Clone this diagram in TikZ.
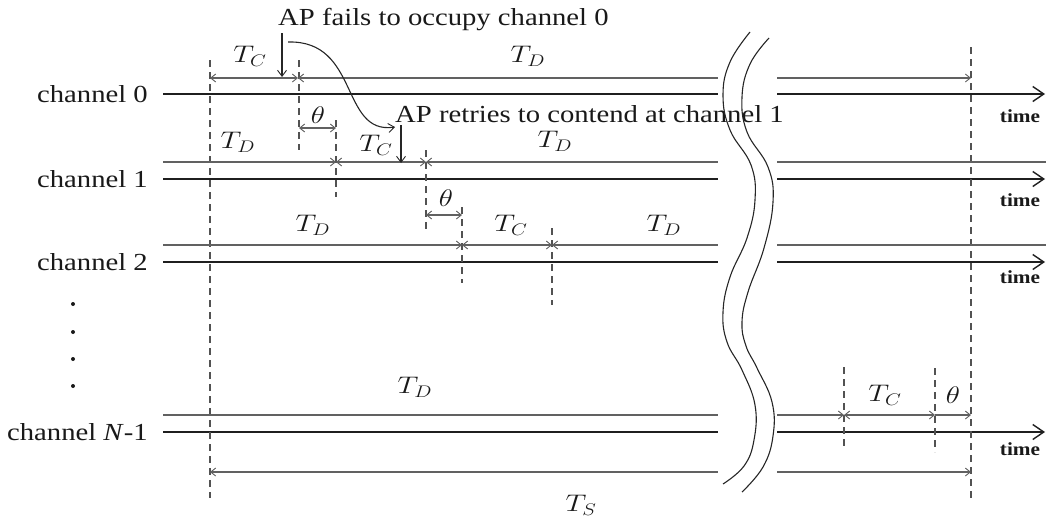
\documentclass[tikz,border=0pt]{standalone}
\usepackage{fix-cm}
\usepackage{fontspec}
\setmainfont{Liberation Serif}
\usetikzlibrary{arrows.meta}
\begin{document}
\begin{tikzpicture}[x=1pt,y=-1pt,
  mainline/.style={line width=1.8pt,draw=black!88},
  mainarrow/.style={mainline,-{Straight Barb[length=11pt,width=15pt,line width=1.4pt]}},
  thin/.style={line width=1.3pt,draw=black!62},
  tipR/.style={thin,-{Straight Barb[length=5pt,width=8pt,line width=0.9pt]}},
  tipL/.style={thin,{Straight Barb[length=5pt,width=8pt,line width=0.9pt]}-},
  tipLR/.style={thin,{Straight Barb[length=5pt,width=8pt,line width=0.9pt]}-{Straight Barb[length=5pt,width=8pt,line width=0.9pt]}},
  vdash/.style={line width=1.2pt,draw=black!68,dash pattern=on 7pt off 5pt},
  chlabel/.style={font=\fontsize{24.5}{28}\selectfont,xscale=1.17,anchor=base east,text=black!90,inner sep=0pt},
  txt/.style={font=\fontsize{24.5}{28}\selectfont,xscale=1.17,anchor=base west,text=black!90,inner sep=0pt},
  mlabel/.style={font=\fontsize{24}{28}\selectfont,xscale=1.22,text=black!90,inner sep=0pt},
  timelbl/.style={font=\fontsize{18.5}{22}\selectfont\bfseries,xscale=1.15,text=black!90,inner sep=0pt},
  pointer/.style={line width=1.1pt,draw=black!85,-{Straight Barb[length=6pt,width=9pt,line width=0.9pt]}},
  wave/.style={line width=1.1pt,draw=black!85}
]
\useasboundingbox (0,0) rectangle (1046,520);

% channel labels
\node[chlabel] (c0) at (148,102) {channel 0};
\node[chlabel] (c1) at (148,187) {channel 1};
\node[chlabel] (c2) at (148,270) {channel 2};
\node[chlabel] (cN) at (148,440) {channel \textit{N}-1};

% dots
\foreach \yy in {304,332,359,386} \fill[black!90] (73,\yy) circle (2pt);

% main lines
\foreach \yy in {94,179,262,432}{
  \draw[mainline] (163,\yy) -- (718,\yy);
  \draw[mainarrow] (777,\yy) -- (1045,\yy);
}
\node[timelbl] (t0) at (1020,116) {time};
\node[timelbl] (t1) at (1020,200) {time};
\node[timelbl] (t2) at (1020,277) {time};
\node[timelbl] (tN) at (1020,449) {time};

% dashed verticals
\draw[vdash] (210,60) -- (210,498);
\draw[vdash] (971,47) -- (971,502);
\draw[vdash] (299,60) -- (299,150);
\draw[vdash] (336,120) -- (336,197);
\draw[vdash] (426,150) -- (426,232);
\draw[vdash] (462,207) -- (462,283);
\draw[vdash] (552,228) -- (552,305);
\draw[vdash] (844,367) -- (844,450);
\draw[vdash] (935,368) -- (935,452);

% channel 0 thin line
\draw[tipLR] (210,78) -- (298,78);
\draw[tipL] (298,78) -- (718,78);
\draw[tipR] (777,78) -- (971,78);
% channel 1 thin line
\draw[tipR] (163,162) -- (336,162);
\draw[tipLR] (336,162) -- (426,162);
\draw[tipL] (426,162) -- (718,162);
\draw[thin] (777,162) -- (1046,162);
% channel 2 thin line
\draw[tipR] (163,245) -- (462,245);
\draw[tipLR] (462,245) -- (552,245);
\draw[tipL] (552,245) -- (718,245);
\draw[thin] (777,245) -- (1046,245);
% channel N-1 thin line
\draw[thin] (163,415) -- (718,415);
\draw[tipR] (777,415) -- (844,415);
\draw[tipLR] (844,415) -- (935,415);
\draw[tipR] (935,415) -- (971,415);
% theta arrows
\draw[tipLR] (299,128) -- (336,128);
\draw[tipLR] (426,215) -- (462,215);
% T_S
\draw[tipL] (210,472) -- (718,472);
\draw[tipR] (777,472) -- (971,472);

% math labels
\node[mlabel] (l1) at (250,56) {$T_C$};
\node[mlabel] (l2) at (528,56) {$T_D$};
\node[mlabel] (l3) at (318,115) {$\theta$};
\node[mlabel] (l4) at (238,142) {$T_D$};
\node[mlabel] (l5) at (376,145) {$T_C$};
\node[mlabel] (l6) at (555,141) {$T_D$};
\node[mlabel] (l7) at (313,225) {$T_D$};
\node[mlabel] (l8) at (446,198) {$\theta$};
\node[mlabel] (l9) at (511,225) {$T_C$};
\node[mlabel] (l10) at (664,225) {$T_D$};
\node[mlabel] (l11) at (415,387) {$T_D$};
\node[mlabel] (l12) at (885,395) {$T_C$};
\node[mlabel] (l13) at (953,395) {$\theta$};
\node[mlabel] (l14) at (581,505) {$T_S$};

% annotations
\node[txt] (ap1) at (278,25) {AP fails to occupy channel 0};
\node[txt] (ap2) at (395,122) {AP retries to contend at channel 1};
\coordinate (p1s) at (282,33);
\coordinate (p1e) at (282,77);
\coordinate (p2s) at (401,125);
\coordinate (p2e) at (401,163);
\draw[pointer] (p1s) -- (p1e);
\draw[pointer] (p2s) -- (p2e);
\coordinate (cs) at (288,42);
\coordinate (ce) at (395,127);
\draw[pointer] (cs) .. controls (360,40) and (340,135) .. (ce);

% break marks
\draw[wave] plot[smooth,tension=0.7] coordinates {(750,32) (730,62) (723,95) (730,130) (751,165) (755,200) (747,238) (730,277) (723,312) (727,342) (742,370) (755,405) (754,440) (744,466) (723,484)};
\draw[wave] plot[smooth,tension=0.7] coordinates {(769,38) (750,64) (742,97) (747,132) (768,167) (773,202) (764,248) (748,292) (742,322) (746,346) (757,368) (772,402) (773,436) (763,467) (742,492)};
\end{tikzpicture}
\end{document}
